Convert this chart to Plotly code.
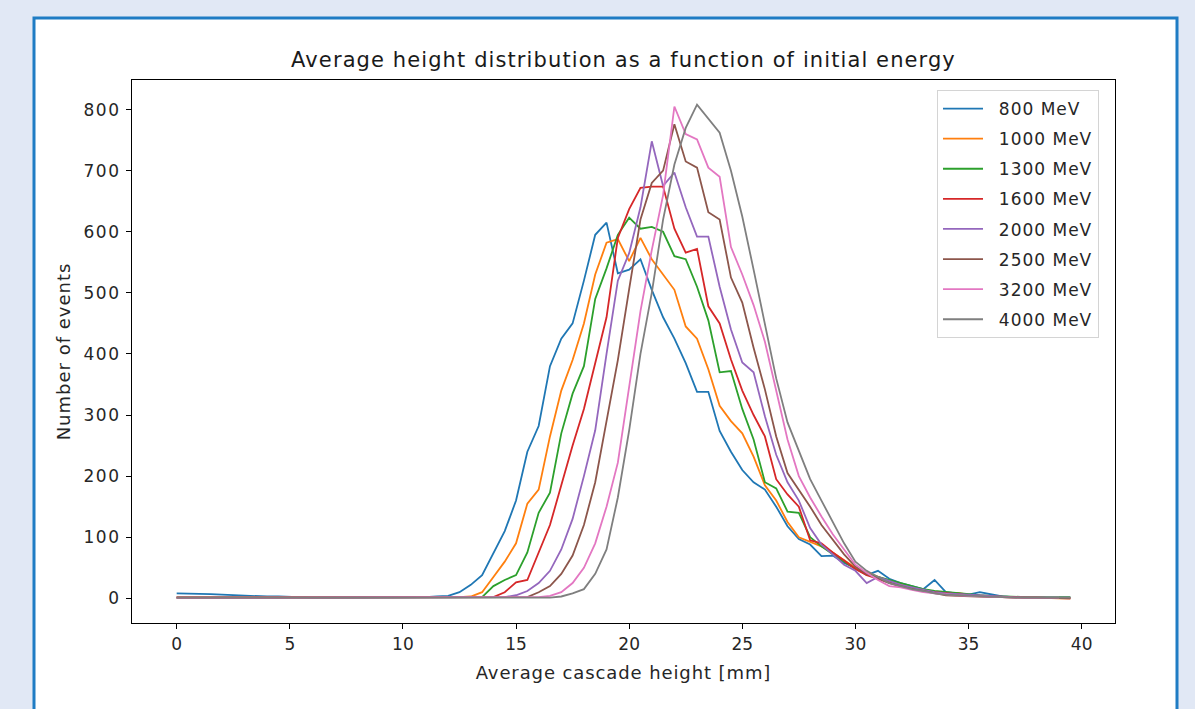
import plotly.graph_objects as go

# x positions (bin centres, mm)
heights_mm = [i * 0.5 for i in range(80)]

# number of events per bin for each initial energy
e800 = [8, 8, 7, 7, 6, 5, 4, 4, 3, 3, 2, 2, 1, 1, 1, 1, 1, 1, 1, 1,
        1, 2, 2, 3, 4, 10, 22, 38, 75, 110, 160, 240, 282, 380, 425, 450, 520, 595, 615, 532,
        538, 555, 505, 460, 425, 385, 338, 338, 274, 240, 210, 190, 178, 150, 118, 97, 88, 69, 70, 58,
        50, 38, 45, 32, 25, 20, 15, 30, 10, 8, 6, 10, 6, 3, 2, 2, 1, 1, 1, 1]
e1000 = [2, 2, 2, 2, 2, 1, 1, 1, 1, 1, 1, 1, 1, 1, 1, 1, 1, 1, 1, 1,
         1, 1, 1, 1, 1, 2, 3, 10, 35, 60, 90, 155, 178, 265, 340, 390, 450, 530, 582, 588,
         552, 590, 555, 530, 505, 445, 425, 375, 315, 290, 270, 232, 185, 160, 125, 100, 92, 85, 75, 62,
         50, 42, 35, 28, 22, 18, 14, 11, 9, 9, 6, 4, 3, 2, 1, 1, 1, 0, 0, 0]
e1300 = [1, 1, 1, 1, 1, 1, 1, 1, 1, 1, 1, 1, 1, 1, 1, 1, 1, 1, 1, 1,
         1, 1, 1, 1, 1, 1, 1, 2, 20, 30, 38, 75, 140, 173, 270, 335, 380, 490, 540, 595,
         623, 605, 608, 600, 560, 555, 510, 455, 370, 372, 310, 260, 190, 180, 142, 140, 100, 85, 72, 60,
         48, 40, 35, 30, 25, 20, 15, 12, 10, 8, 6, 5, 4, 3, 3, 2, 2, 2, 2, 2]
e1600 = [1, 1, 1, 1, 1, 1, 1, 1, 1, 1, 1, 1, 1, 1, 1, 1, 1, 1, 1, 1,
         1, 1, 1, 1, 1, 1, 1, 1, 2, 10, 26, 30, 75, 120, 185, 250, 310, 385, 460, 590,
         637, 672, 674, 674, 605, 566, 572, 478, 450, 391, 340, 300, 265, 195, 170, 150, 95, 90, 75, 62,
         48, 38, 32, 25, 20, 16, 12, 10, 8, 6, 5, 4, 3, 2, 2, 1, 1, 1, 0, 0]
e2000 = [1, 1, 1, 1, 1, 1, 1, 1, 1, 1, 1, 1, 1, 1, 1, 1, 1, 1, 1, 1,
         1, 1, 1, 1, 1, 1, 1, 1, 1, 2, 5, 12, 25, 45, 80, 130, 200, 275, 400, 520,
         565, 640, 748, 675, 697, 640, 592, 592, 510, 440, 386, 370, 298, 235, 190, 160, 115, 88, 72, 55,
         45, 25, 35, 28, 22, 18, 14, 10, 8, 7, 5, 4, 3, 2, 2, 1, 1, 1, 1, 1]
e2500 = [1, 1, 1, 1, 1, 1, 1, 1, 1, 1, 1, 1, 1, 1, 1, 1, 1, 1, 1, 1,
         1, 1, 1, 1, 1, 1, 1, 1, 1, 1, 1, 2, 10, 20, 40, 70, 120, 190, 290, 390,
         506, 620, 680, 700, 776, 715, 705, 632, 620, 525, 484, 410, 342, 265, 205, 178, 150, 120, 95, 72,
         52, 40, 32, 25, 20, 15, 12, 9, 5, 4, 3, 3, 2, 2, 1, 1, 1, 1, 0, 0]
e3200 = [1, 1, 1, 1, 1, 1, 1, 1, 1, 1, 1, 1, 1, 1, 1, 1, 1, 1, 1, 1,
         1, 1, 1, 1, 1, 1, 1, 1, 1, 1, 1, 1, 2, 4, 10, 25, 50, 90, 150, 222,
         347, 470, 570, 660, 805, 760, 751, 705, 690, 575, 530, 480, 420, 340, 260, 200, 165, 134, 105, 80,
         55, 42, 30, 20, 18, 14, 10, 8, 6, 5, 4, 3, 2, 2, 1, 1, 1, 1, 1, None]
e4000 = [1, 1, 1, 1, 1, 1, 1, 1, 1, 1, 1, 1, 1, 1, 1, 1, 1, 1, 1, 1,
         1, 1, 1, 1, 1, 1, 1, 1, 1, 1, 1, 1, 1, 1, 3, 8, 15, 40, 80, 165,
         275, 400, 500, 620, 710, 770, 808, 785, 762, 700, 625, 538, 450, 360, 288, 240, 195, 160, 124, 90,
         60, 45, 35, 25, 20, 15, 12, 8, 6, 5, 4, 3, 2, 2, 1, 1, 1, 1, 1, 1]

series_names = ["800 MeV", "1000 MeV", "1300 MeV", "1600 MeV",
                "2000 MeV", "2500 MeV", "3200 MeV", "4000 MeV"]
series_values = [e800, e1000, e1300, e1600, e2000, e2500, e3200, e4000]
colors = ["#1f77b4", "#ff7f0e", "#2ca02c", "#d62728",
          "#9467bd", "#8c564b", "#e377c2", "#7f7f7f"]

x_ticks = [0, 5, 10, 15, 20, 25, 30, 35, 40]
y_ticks = [0, 100, 200, 300, 400, 500, 600, 700, 800]

title_text = "Average height distribution as a function of initial energy"
x_title = "Average cascade height [mm]"
y_title = "Number of events"


def spaced(text, px):
    return "<span style='letter-spacing:%.2fpx'>%s</span>" % (px, text)


fig = go.Figure()
for name, vals, col in zip(series_names, series_values, colors):
    fig.add_trace(go.Scatter(
        x=heights_mm, y=vals, mode="lines",
        name="\u00a0\u00a0" + spaced(name, 1.0),
        legendgroup=name,
        line=dict(color=col, width=1.8),
    ))

FONT = "DejaVu Sans"
W, H = 1195, 709
L, R, T, B = 132, 80, 80, 86
pw, ph = W - L - R, H - T - B


def px_x(p):
    return (p - L) / pw


def px_y(p):
    return (H - B - p) / ph


BG = "#e1e8f5"

# white panel with blue border behind the chart
fig.add_shape(type="rect", xref="paper", yref="paper", layer="below",
              x0=px_x(34), x1=px_x(1177), y0=px_y(730), y1=px_y(18),
              fillcolor="white", line=dict(color="#1f7cc4", width=3))

fig.update_layout(
    width=W, height=H,
    margin=dict(l=L, r=R, t=T, b=B),
    paper_bgcolor=BG,
    plot_bgcolor="white",
    font=dict(family=FONT, color="#262626", size=12),
    title=dict(text=spaced(title_text, 1.1),
               x=0.5, xref="paper", xanchor="center",
               y=1 - 60 / H, yref="container", yanchor="middle",
               font=dict(size=21, color="#1a1a1a", family=FONT)),
    showlegend=True,
    legend=dict(x=px_x(937), y=px_y(90), xanchor="left", yanchor="top",
                bgcolor="white", bordercolor="#d4d4d4", borderwidth=1,
                font=dict(size=17, color="#262626", family=FONT),
                traceorder="grouped", tracegroupgap=5,
                itemwidth=40),
    xaxis=dict(range=[-1.975, 41.475], tickmode="array", tickvals=x_ticks,
               ticktext=[str(v) for v in x_ticks],
               ticks="outside", ticklen=5, tickcolor="#000", tickwidth=1,
               showline=True, linecolor="#000", linewidth=1.2, mirror=True,
               showgrid=False, zeroline=False,
               tickfont=dict(size=17, color="#262626"),
               title=dict(text=spaced(x_title, 0.9), standoff=13,
                          font=dict(size=18, color="#262626"))),
    yaxis=dict(range=[-40.4, 848.4], tickmode="array", tickvals=y_ticks,
               ticktext=[spaced(str(v), 1.5) for v in y_ticks],
               ticks="outside", ticklen=5, tickcolor="#000", tickwidth=1,
               ticklabelstandoff=2,
               showline=True, linecolor="#000", linewidth=1.2, mirror=True,
               showgrid=False, zeroline=False,
               tickfont=dict(size=17, color="#262626"),
               title=dict(text=spaced(y_title, 1.0), standoff=8,
                          font=dict(size=18, color="#262626"))),
)

fig.write_html("out.html",
               config={"displayModeBar": False},
               post_script="document.body.style.margin='0px';"
                           "document.body.style.background='" + BG + "';")
